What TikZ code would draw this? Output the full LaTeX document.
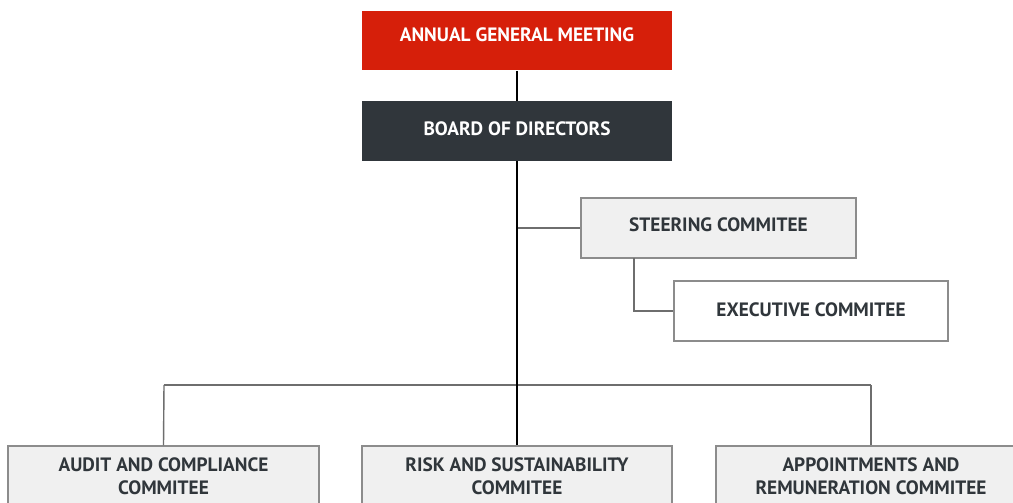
\documentclass[tikz,border=0pt]{standalone}
\usepackage{fontspec}
\setmainfont{PT Sans}
\definecolor{agmred}{HTML}{D61F0A}
\definecolor{boardgray}{HTML}{30363B}
\definecolor{boxfill}{HTML}{F0F0F0}
\definecolor{boxline}{HTML}{8C8C8C}
\definecolor{conngray}{HTML}{6E6E6E}
\definecolor{txt}{HTML}{30363B}
\tikzset{
  orgbox/.style={rectangle, minimum width=6.2cm, minimum height=1.2cm, inner sep=0pt,
    font=\fontsize{11}{13}\selectfont\bfseries, align=center},
  topbox/.style={orgbox, fill=agmred, text=white},
  boardbox/.style={orgbox, fill=boardgray, text=white},
  graybox/.style={orgbox, fill=boxfill, draw=boxline, line width=0.8pt, text=txt},
  whitebox/.style={orgbox, fill=white, draw=boxline, line width=0.8pt, text=txt},
  boxtext/.style={font=\fontsize{11}{13.1}\selectfont\bfseries, text=txt, align=center, anchor=north},
  lbl/.style={font=\fontsize{11}{13}\selectfont\bfseries, inner sep=0pt},
  mainline/.style={draw=black, line width=0.6pt},
  conn/.style={draw=conngray, line width=0.8pt},
}
\begin{document}
\begin{tikzpicture}[x=0.02cm,y=-0.02cm]
\useasboundingbox (0,0) rectangle (1013,503);
\clip (0,0) rectangle (1013,503);
\fill[white] (0,0) rectangle (1013,503);
% boxes
\node[topbox] (agm) at (517,40.5) {};
\node[boardbox] (board) at (517,131) {};
\node[graybox, minimum width=5.5cm] (steer) at (718.5,228) {};
\node[whitebox, minimum width=5.48cm] (exec) at (811,311) {};
\node[lbl, text=white] (agmtxt) at (517,34.5) {ANNUAL GENERAL MEETING};
\node[lbl, text=white] (boardtxt) at (517,129) {BOARD OF DIRECTORS};
\node[lbl, text=txt] (steertxt) at (718.5,225) {STEERING COMMITEE};
\node[lbl, text=txt] (exectxt) at (811,309.5) {EXECUTIVE COMMITEE};
\coordinate (hub) at (517,385);
\coordinate (sj) at (517,228);
\coordinate (hl) at (164,385);
\coordinate (hr) at (871,385);
\coordinate (ej) at (634,311);
\coordinate (es) at (634,258);
\node[graybox, minimum width=6.22cm] (audit) at (163.5,476) {};
\node[graybox] (risk) at (517,476) {};
\node[graybox] (appt) at (871,476) {};
\node[boxtext] (audittxt) at (163.5,451) {AUDIT AND COMPLIANCE\\COMMITEE};
\node[boxtext] (risktxt) at (517,451) {RISK AND SUSTAINABILITY\\COMMITEE};
\node[boxtext] (appttxt) at (871,451) {APPOINTMENTS AND\\REMUNERATION COMMITEE};
% connectors
\draw[conn] (sj) -- (steer.west);
\draw[conn] (es) -- (ej) -- (exec.west);
\draw[conn] (hl) -- (hr);
\draw[conn] (hl) -- (audit.north);
\draw[conn] (hr) -- (appt.north);
\draw[mainline] (agm.south) -- (board.north);
\draw[mainline] (board.south) -- (hub) -- (risk.north);
\end{tikzpicture}
\end{document}
